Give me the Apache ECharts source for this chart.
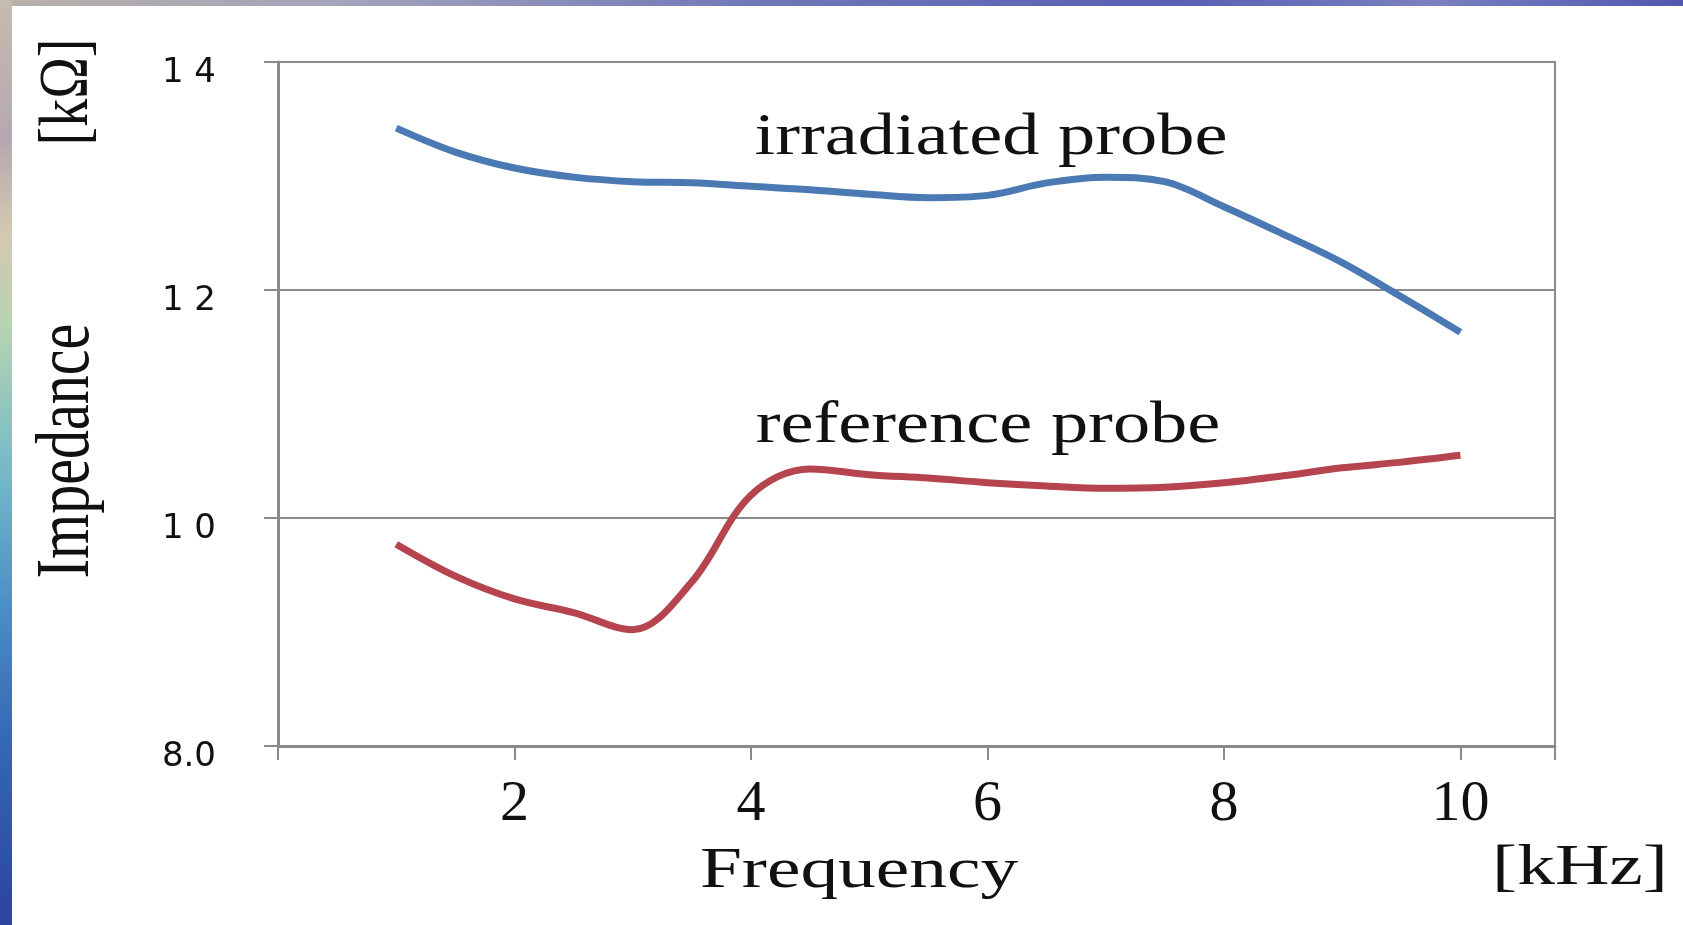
<!DOCTYPE html>
<html>
<head>
<meta charset="utf-8">
<script src="https://cdn.jsdelivr.net/npm/echarts@6/dist/echarts.min.js"></script>
<style>
html,body{margin:0;padding:0;background:#fff;}
#chart{width:1683px;height:925px;}
</style>
</head>
<body>
<div id="chart"></div>
<script>
// Frequency [kHz]
const frequencies = [1, 1.5, 2, 2.5, 3, 3.5, 4, 4.5, 5, 5.5, 6, 6.5, 7, 7.5, 8, 8.5, 9, 9.5, 10];
// Impedance [kΩ]
const irradiatedProbe = [13.42, 13.21, 13.07, 12.99, 12.95, 12.94, 12.91, 12.88, 12.84, 12.81, 12.83, 12.94, 12.99, 12.95, 12.73, 12.49, 12.24, 11.94, 11.63];
const referenceProbe  = [9.77, 9.49, 9.29, 9.17, 9.02, 9.44, 10.20, 10.43, 10.38, 10.35, 10.31, 10.28, 10.26, 10.27, 10.31, 10.37, 10.44, 10.49, 10.55];

const xTickValues = [2, 4, 6, 8, 10];
const xTickLabels = ['2', '4', '6', '8', '10'];
const yTickValues = [8, 10, 12, 14];
const yTickLabels = ['8.0', '1 0', '1 2', '1 4'];

const seriesNames = ['irradiated probe', 'reference probe'];
const xName = 'Frequency';
const xUnit = '[kHz]';
const yName = 'Impedance';
const yUnit = '[kΩ]';

const chart = echarts.init(document.getElementById('chart'), null, {renderer: 'canvas'});
const serif = '"Liberation Serif", "DejaVu Serif", serif';
const gray = '#8a8a8a';

function pairs(xs, ys) { return xs.map((x, i) => [x, ys[i]]); }

const option = {
  animation: false,
  backgroundColor: '#ffffff',
  grid: {left: 278, right: 128, top: 62, bottom: 179, show: true, borderColor: gray, borderWidth: 2, backgroundColor: 'transparent'},
  xAxis: {
    type: 'value', min: 0, max: 10.8, interval: 2,
    axisLine: {show: true, lineStyle: {color: gray, width: 3}},
    axisTick: {show: true, length: 14, lineStyle: {color: gray, width: 2}},
    splitLine: {show: false},
    axisLabel: {
      margin: 30, color: '#111', fontFamily: serif, fontSize: 58,
      formatter: v => { const i = xTickValues.indexOf(v); return i >= 0 ? xTickLabels[i] : ''; }
    }
  },
  yAxis: {
    type: 'value', min: 8, max: 14, interval: 2,
    axisLine: {show: true, lineStyle: {color: gray, width: 3}},
    axisTick: {show: true, length: 14, lineStyle: {color: gray, width: 2}},
    splitLine: {show: true, lineStyle: {color: gray, width: 2}},
    axisLabel: {
      margin: 62, color: '#111', fontFamily: '"DejaVu Sans", sans-serif', fontSize: 34,
      verticalAlign: 'top', padding: [-6, 0, 0, 0],
      formatter: v => { const i = yTickValues.indexOf(v); return i >= 0 ? yTickLabels[i] : ''; }
    }
  },
  series: [
    {name: seriesNames[0], type: 'line', smooth: 0.35, showSymbol: false, data: pairs(frequencies, irradiatedProbe), lineStyle: {color: '#4a79b3', width: 7}, itemStyle: {color: '#4a79b3'}, z: 3},
    {name: seriesNames[1], type: 'line', smooth: 0.35, showSymbol: false, data: pairs(frequencies, referenceProbe), lineStyle: {color: '#b6444f', width: 7}, itemStyle: {color: '#b6444f'}, z: 3}
  ],
  graphic: [
    {type: 'rect', x: 0, y: 0, z: 100, shape: {x: 0, y: 0, width: 1683, height: 6},
      style: {fill: new echarts.graphic.LinearGradient(0, 0, 1, 0, [
        {offset: 0, color: '#b8b0a8'}, {offset: 0.2, color: '#a4a4bc'}, {offset: 0.45, color: '#7078b8'},
        {offset: 0.7, color: '#5860b4'}, {offset: 0.85, color: '#7a80c0'}, {offset: 1, color: '#5058b0'}])}},
    {type: 'rect', x: 0, y: 0, z: 100, shape: {x: 0, y: 0, width: 12, height: 925},
      style: {fill: new echarts.graphic.LinearGradient(0, 0, 0, 1, [
        {offset: 0, color: '#c4bcae'}, {offset: 0.15, color: '#b4a8b0'}, {offset: 0.25, color: '#d4c8b0'},
        {offset: 0.35, color: '#b8d4b0'}, {offset: 0.5, color: '#78bcc8'}, {offset: 0.65, color: '#4c90c8'},
        {offset: 0.8, color: '#3468b4'}, {offset: 1, color: '#2c44a0'}])}},
    {type: 'text', x: 991, y: 138, scaleX: 1.24, z: 50,
      style: {text: seriesNames[0], fontFamily: serif, fontSize: 60, fill: '#111', align: 'center', verticalAlign: 'middle'}},
    {type: 'text', x: 988, y: 426, scaleX: 1.24, z: 50,
      style: {text: seriesNames[1], fontFamily: serif, fontSize: 60, fill: '#111', align: 'center', verticalAlign: 'middle'}},
    {type: 'text', x: 859, y: 872, scaleX: 1.3, z: 50,
      style: {text: xName, fontFamily: serif, fontSize: 58, fill: '#111', align: 'center', verticalAlign: 'middle'}},
    {type: 'text', x: 1580, y: 869, scaleX: 1.3, z: 50,
      style: {text: xUnit, fontFamily: serif, fontSize: 58, fill: '#111', align: 'center', verticalAlign: 'middle'}},
    {type: 'text', x: 68, y: 451, rotation: Math.PI / 2, scaleY: 1.3, z: 50,
      style: {text: yName, fontFamily: serif, fontSize: 58, fill: '#111', align: 'center', verticalAlign: 'middle'}},
    {type: 'text', x: 69, y: 92, rotation: Math.PI / 2, scaleY: 1.25, z: 50,
      style: {text: yUnit, fontFamily: serif, fontSize: 56, fill: '#111', align: 'center', verticalAlign: 'middle'}}
  ]
};
chart.setOption(option);
</script>
</body>
</html>
